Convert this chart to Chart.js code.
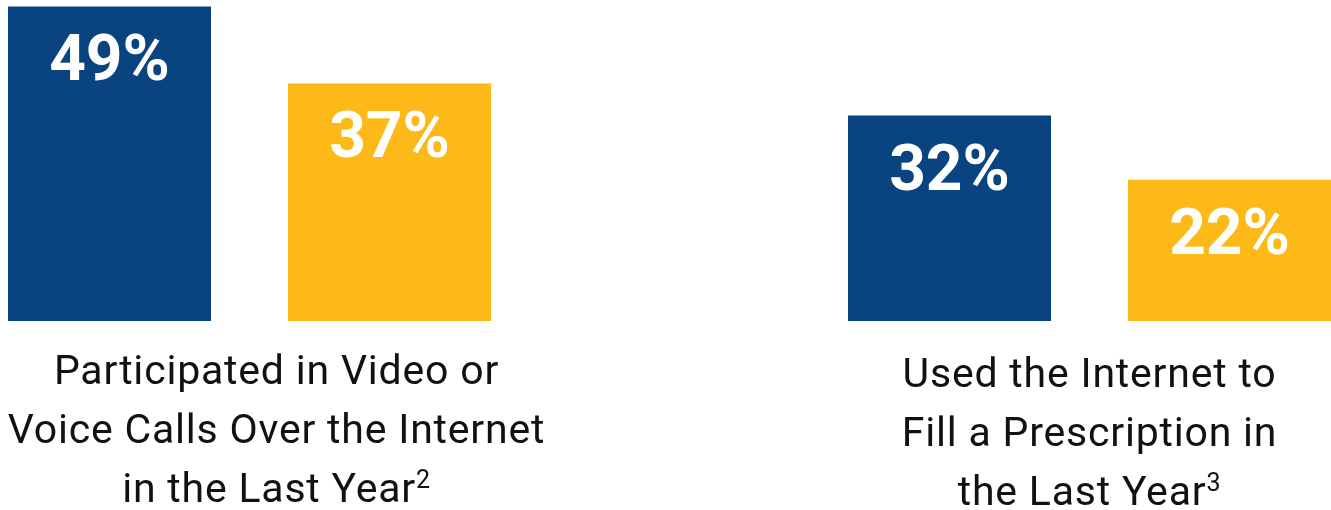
<!DOCTYPE html>
<html>
<head>
<meta charset="utf-8">
<script src="https://cdn.jsdelivr.net/npm/chart.js@4"></script>
<style>
    body { margin: 0; background: #fff; }
    #wrap { width: 1331px; height: 510px; }
</style>
</head>
<body>
<div id="wrap"><canvas id="chart" width="1331" height="510"></canvas></div>
<script>
const categories = [
    ["Participated in Video or", "Voice Calls Over the Internet", "in the Last Year"],
    ["Used the Internet to", "Fill a Prescription in", "the Last Year"],
];
const footnotes = ["2", "3"];
const seriesBlue = [49, 32];
const seriesYellow = [37, 22];

const blue = "#0A4480";
const yellow = "#FCB918";

// white % labels inside the bars
const valueLabels = {
    id: "valueLabels",
    afterDatasetsDraw(chart) {
        const ctx = chart.ctx;
        ctx.save();
        ctx.fillStyle = "#fff";
        ctx.font = "bold 64px Roboto";
        ctx.textAlign = "center";
        ctx.textBaseline = "alphabetic";
        chart.data.datasets.forEach((ds, i) => {
            chart.getDatasetMeta(i).data.forEach((bar, j) => {
                ctx.fillText(ds.data[j] + "%", bar.x, bar.y + 74);
            });
        });
        ctx.restore();
    },
};

// multi-line category labels with a superscript footnote
const categoryLabels = {
    id: "categoryLabels",
    afterDraw(chart) {
        const ctx = chart.ctx;
        const x = chart.scales.x;
        const shift = [27, 0];
        const top = [384, 387];
        ctx.save();
        ctx.fillStyle = "#111";
        ctx.textBaseline = "alphabetic";
        ctx.letterSpacing = "0.8px";
        categories.forEach((lines, i) => {
            const cx = x.getPixelForValue(i) + shift[i];
            lines.forEach((line, k) => {
                const y = top[i] + k * 59;
                ctx.font = "41px Roboto";
                if (k === lines.length - 1) {
                    const w = ctx.measureText(line).width;
                    ctx.font = "25px Roboto";
                    const sw = ctx.measureText(footnotes[i]).width;
                    const left = cx - (w + sw) / 2;
                    ctx.textAlign = "left";
                    ctx.fillText(footnotes[i], left + w, y - 14);
                    ctx.font = "41px Roboto";
                    ctx.fillText(line, left, y);
                } else {
                    ctx.textAlign = "center";
                    ctx.fillText(line, cx, y);
                }
            });
        });
        ctx.restore();
    },
};

new Chart(document.getElementById("chart"), {
    type: "bar",
    data: {
        labels: categories.map((c) => c.join(" ")),
        datasets: [
            {
                label: "A",
                data: seriesBlue,
                backgroundColor: blue,
                clip: false,
            },
            {
                label: "B",
                data: seriesYellow,
                backgroundColor: yellow,
                clip: false,
            },
        ],
    },
    options: {
        responsive: false,
        animation: false,
        categoryPercentage: 2 / 3,
        barPercentage: 0.725,
        layout: {
            padding: { left: 249.5, right: 241.5, top: 0, bottom: 189 },
        },
        plugins: {
            legend: { display: false },
            tooltip: { enabled: false },
        },
        scales: {
            x: {
                display: false,
                offset: false,
                grid: { display: false },
            },
            y: {
                display: false,
                min: 0,
                max: 50,
                grid: { display: false },
            },
        },
    },
    plugins: [valueLabels, categoryLabels],
});
</script>
</body>
</html>
